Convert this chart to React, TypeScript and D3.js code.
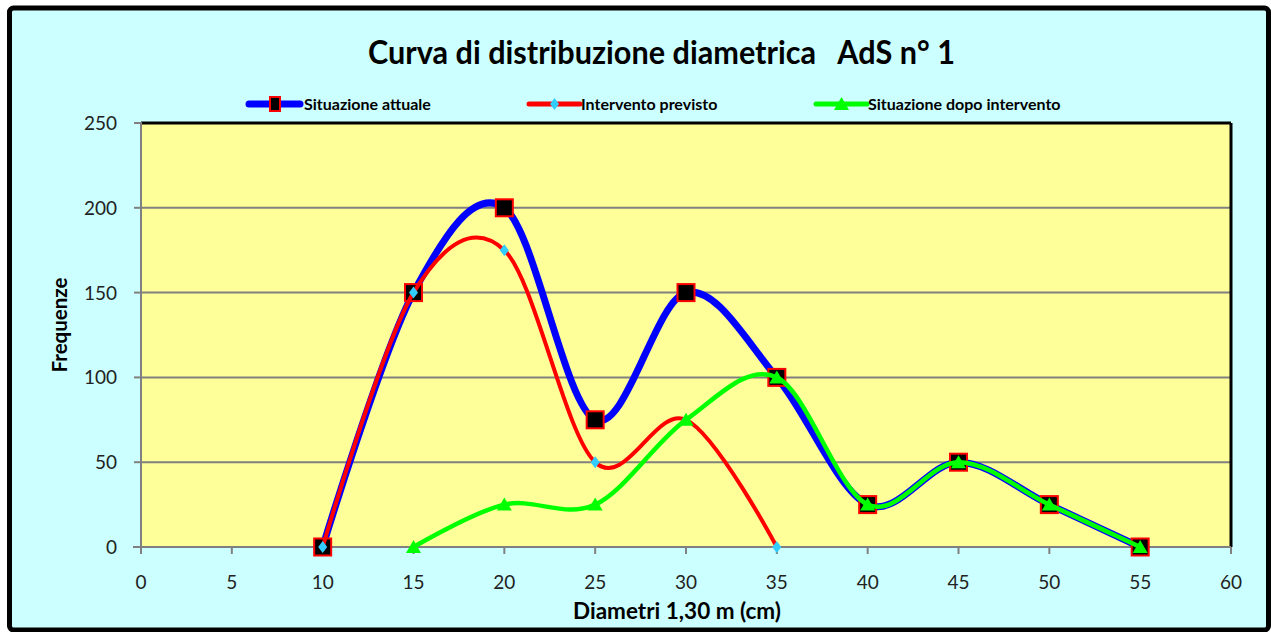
import React from "react";
import * as d3 from "d3";

const seriesNames = ["Situazione attuale", "Intervento previsto", "Situazione dopo intervento"];
const attualeX = [10, 15, 20, 25, 30, 35, 40, 45, 50, 55];
const attualeY = [0, 150, 200, 75, 150, 100, 25, 50, 25, 0];
const previstoX = [10, 15, 20, 25, 30, 35];
const previstoY = [0, 150, 175, 50, 75, 0];
const dopoX = [15, 20, 25, 30, 35, 40, 45, 50, 55];
const dopoY = [0, 25, 25, 75, 100, 25, 50, 25, 0];
const xTicks = [0, 5, 10, 15, 20, 25, 30, 35, 40, 45, 50, 55, 60];
const yTicks = [0, 50, 100, 150, 200, 250];
const title = "Curva di distribuzione diametrica   AdS n° 1";
const xTitle = "Diametri 1,30 m (cm)";
const yTitle = "Frequenze";

const W = 1271;
const H = 632;
const FONT = "Lato, 'Open Sans', sans-serif";

export default function App() {
  const x = d3.scaleLinear().domain([0, 60]).range([141, 1231]);
  const y = d3.scaleLinear().domain([0, 250]).range([547, 123]);
  const line = d3
    .line<[number, number]>()
    .x((d) => x(d[0]))
    .y((d) => y(d[1]))
    .curve(d3.curveCardinal.tension(0));

  const pts = (xs: number[], ys: number[]) => xs.map((v, i) => [v, ys[i]] as [number, number]);
  const a = pts(attualeX, attualeY);
  const p = pts(previstoX, previstoY);
  const g = pts(dopoX, dopoY);

  const square = (cx: number, cy: number, key: string) => (
    <rect key={key} x={cx - 8.5} y={cy - 8.5} width={17} height={17} fill="#000" stroke="#FF0000" strokeWidth={2} />
  );
  const diamond = (cx: number, cy: number, key: string) => (
    <path key={key} d={`M${cx},${cy - 6}L${cx + 4.5},${cy}L${cx},${cy + 6}L${cx - 4.5},${cy}Z`} fill="#33CCFF" />
  );
  const triangle = (cx: number, cy: number, key: string) => (
    <path key={key} d={`M${cx},${cy - 7}L${cx + 7.5},${cy + 6}L${cx - 7.5},${cy + 6}Z`} fill="#00FF00" />
  );

  const legendY = 104;
  const legend = [
    { x0: 249, color: "#0000FF", w: 7, m: square, tx: 304 },
    { x0: 529, color: "#FF0000", w: 5, m: diamond, tx: 581 },
    { x0: 816, color: "#00FF00", w: 5, m: triangle, tx: 868 },
  ];

  return (
    <svg width={W} height={H} style={{ position: "absolute", left: 0, top: 0 }} fontFamily={FONT}>
      <rect x={0} y={0} width={W} height={H} fill="#fff" />
      <rect x={9.5} y={8} width={1259} height={622} rx={4} fill="#CCFFFF" stroke="#000" strokeWidth={5} />
      <text x={368} y={64} fontSize={32} fontWeight="bold" fill="#000" textLength={587} lengthAdjust="spacingAndGlyphs" style={{ whiteSpace: "pre" }}>
        {title}
      </text>
      {legend.map((l, i) => (
        <g key={i}>
          <line x1={l.x0} x2={l.x0 + 51} y1={legendY} y2={legendY} stroke={l.color} strokeWidth={l.w} strokeLinecap="round" />
          {i === 0
            ? <rect x={l.x0 + 21} y={legendY - 7} width={10} height={14} fill="#000" stroke="#FF0000" strokeWidth={2} />
            : l.m(l.x0 + 25.5, legendY, "lm" + i)}
          <text x={l.tx} y={legendY + 6} fontSize={16} fontWeight="bold" fill="#000">
            {seriesNames[i]}
          </text>
        </g>
      ))}
      <rect x={141} y={123} width={1090} height={424} fill="#FFFF99" />
      {yTicks.filter((t) => t > 0 && t < 250).map((t) => (
        <line key={t} x1={141} x2={1231} y1={y(t)} y2={y(t)} stroke="#808080" strokeWidth={2} />
      ))}
      <line x1={141} x2={1231} y1={123} y2={123} stroke="#000" strokeWidth={3} />
      <line x1={1231} x2={1231} y1={123} y2={547} stroke="#000" strokeWidth={3} />
      <line x1={141} x2={141} y1={122} y2={548} stroke="#808080" strokeWidth={2} />
      <line x1={133} x2={1231} y1={547} y2={547} stroke="#808080" strokeWidth={2} />
      {yTicks.map((t) => (
        <g key={t}>
          <line x1={134} x2={141} y1={y(t)} y2={y(t)} stroke="#808080" strokeWidth={2} />
          <text x={117} y={y(t) + 7} textAnchor="end" fontSize={19} fill="#222">
            {t}
          </text>
        </g>
      ))}
      {xTicks.map((t) => (
        <g key={t}>
          <line x1={x(t)} x2={x(t)} y1={547} y2={554} stroke="#808080" strokeWidth={2} />
          <text x={x(t)} y={589} textAnchor="middle" fontSize={19} fill="#222">
            {t}
          </text>
        </g>
      ))}
      <text x={677} y={619} textAnchor="middle" fontSize={22.5} fontWeight="bold" fill="#000">
        {xTitle}
      </text>
      <text transform={`translate(67,325) rotate(-90)`} textAnchor="middle" fontSize={20.5} fontWeight="bold" fill="#000">
        {yTitle}
      </text>

      <path d={line(a) || ""} fill="none" stroke="#0000FF" strokeWidth={7} strokeLinejoin="round" />
      {a.map((d, i) => square(x(d[0]), y(d[1]), "a" + i))}
      <path d={line(p) || ""} fill="none" stroke="#FF0000" strokeWidth={4} strokeLinejoin="round" />
      {p.map((d, i) => diamond(x(d[0]), y(d[1]), "p" + i))}
      <path d={line(g) || ""} fill="none" stroke="#00FF00" strokeWidth={4.5} strokeLinejoin="round" />
      {g.map((d, i) => triangle(x(d[0]), y(d[1]), "g" + i))}
    </svg>
  );
}
